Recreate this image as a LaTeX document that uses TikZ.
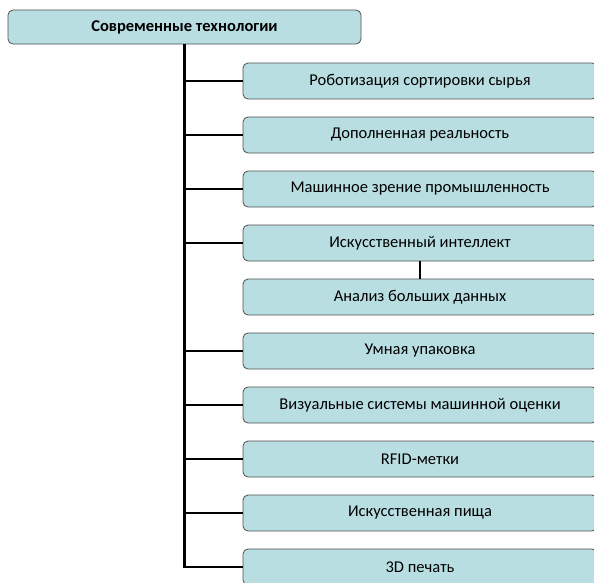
\documentclass[tikz,border=0pt]{standalone}
\usepackage{fontspec}
\setmainfont{Carlito}
\usepackage{tikz}
\usetikzlibrary{positioning}
\definecolor{boxfill}{RGB}{185,222,226}
\definecolor{boxline}{RGB}{80,80,80}

\begin{document}
\begin{tikzpicture}[x=1pt,y=1pt
                   ,box/.style={draw=boxline,fill=boxfill,line width=0.8pt
                               ,rounded corners=5pt,minimum width=354pt
                               ,minimum height=36pt,inner sep=0pt,outer sep=0pt
                               ,font=\fontsize{16.5}{18}\selectfont}
                   ,conn/.style={line width=2.6pt,black}
                   ,node distance=18pt]
  \useasboundingbox (0,0) rectangle (594,-582);
  \clip (0,0) rectangle (594,-582);
  \node[box,minimum width=353pt,minimum height=34pt
       ,font=\fontsize{16.5}{18}\selectfont\bfseries] (top) at (184.5,-27)
       {Современные технологии};
  \node[box] (t1) at (420,-81) {Роботизация сортировки сырья};
  \node[box,below=of t1] (t2) {Дополненная реальность};
  \node[box,below=of t2] (t3) {Машинное зрение промышленность};
  \node[box,below=of t3] (t4) {Искусственный интеллект};
  \node[box,below=of t4] (t5) {Анализ больших данных};
  \node[box,below=of t5] (t6) {Умная упаковка};
  \node[box,below=of t6] (t7) {Визуальные системы машинной оценки};
  \node[box,below=of t7] (t8) {RFID-метки};
  \node[box,below=of t8] (t9) {Искусственная пища};
  \node[box,below=of t9] (t10) {3D печать};
  % branches from the trunk
  \foreach \i in {1,2,3,4,6,7,8,9,10}
    \draw[conn] (top.south) |- (t\i.west);
  \draw[conn] (t4) -- (t5);
\end{tikzpicture}
\end{document}
